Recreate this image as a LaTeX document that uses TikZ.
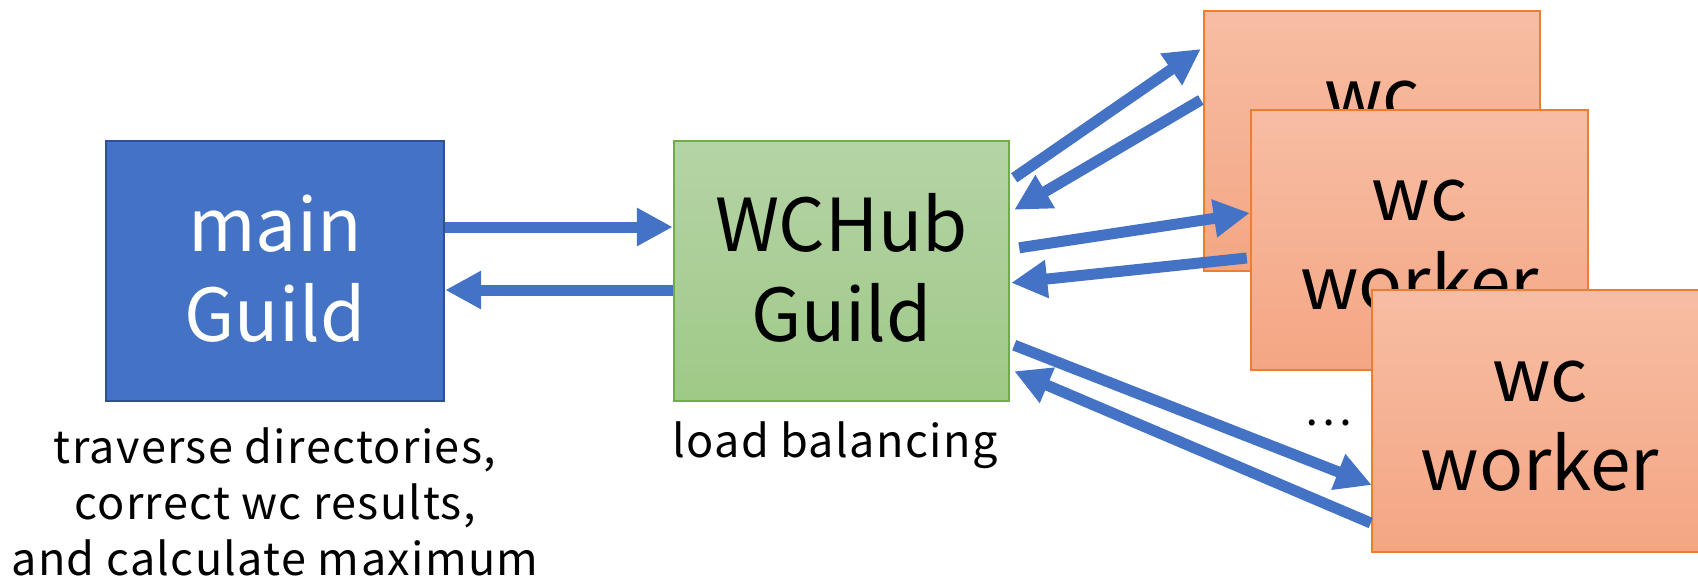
\documentclass[tikz,border=0pt]{standalone}
\usepackage{fontspec}
\usetikzlibrary{arrows.meta,calc}
\newfontfamily\jpfont{Noto Sans CJK JP}
\newfontfamily\jpspaced{Noto Sans CJK JP}[LetterSpace=3]
\definecolor{mainblue}{HTML}{4472C4}
\definecolor{mainedge}{HTML}{2F528F}
\definecolor{hubtop}{HTML}{B5D4A6}
\definecolor{hubbot}{HTML}{9FC987}
\definecolor{hubedge}{HTML}{70AD47}
\definecolor{wtop}{HTML}{F7BDA4}
\definecolor{wbot}{HTML}{F4A683}
\definecolor{wedge}{HTML}{ED7D31}
\tikzset{
  box/.style={rectangle, inner sep=0pt, line width=1.2pt},
  mainbox/.style={box, fill=mainblue, draw=mainedge},
  hubbox/.style={box, top color=hubtop, bottom color=hubbot, draw=hubedge},
  workerbox/.style={box, top color=wtop, bottom color=wbot, draw=wedge},
  bigtext/.style={anchor=base, inner sep=0pt, font=\jpfont\fontsize{36.5}{44}\selectfont},
  smalltext/.style={anchor=base, inner sep=0pt, font=\jpspaced\fontsize{22.5}{28}\selectfont},
  flow/.style={draw=mainblue, line width=5.5pt,
    -{Triangle[width=18pt,length=18pt]}},
}
\begin{document}
\begin{tikzpicture}[x=0.5pt, y=-0.5pt]
\clip (0,0) rectangle (1698,579);
\fill[white] (0,0) rectangle (1698,579);

% main guild
\node[mainbox, minimum width=169pt, minimum height=130pt] (main) at (275,271) {};
\node[bigtext, text=white] (mainA) at ($(main.center)+(0,-20)$) {main};
\node[bigtext, text=white] (mainB) at ($(main.center)+(0,70)$) {Guild};

% hub guild
\node[hubbox, minimum width=167.5pt, minimum height=130pt] (hub) at (841.5,271) {};
\node[bigtext] (hubA) at ($(hub.center)+(0,-20)$) {WCHub};
\node[bigtext] (hubB) at ($(hub.center)+(0,70)$) {Guild};

% stacked workers
\node[workerbox, minimum width=168pt, minimum height=130pt] (w1) at (1372,141) {};
\node[bigtext] (w1A) at ($(w1.center)+(0,-20)$) {wc};
\node[bigtext] (w1B) at ($(w1.center)+(0,69)$) {worker};

\node[workerbox, minimum width=168.5pt, minimum height=130pt] (w2) at (1419.5,240) {};
\node[bigtext] (w2A) at ($(w2.center)+(0,-20)$) {wc};
\node[bigtext] (w2B) at ($(w2.center)+(0,69)$) {worker};

\node[workerbox, minimum width=168pt, minimum height=131pt] (w3) at (1540,421) {};
\node[bigtext] (w3A) at ($(w3.center)+(0,-20)$) {wc};
\node[bigtext] (w3B) at ($(w3.center)+(0,69)$) {worker};

% captions
\node[smalltext] (capA) at (275,463) {traverse directories,};
\node[smalltext] (capB) at (275,519) {correct wc results,};
\node[smalltext] (capC) at (275,575) {and calculate maximum};
\node[smalltext] (capHub) at (835,457) {load balancing};
\node[inner sep=0pt, font=\jpfont\fontsize{22.5}{28}\selectfont] (dots) at (1328,423) {…};

% main <-> hub
\draw[flow] ($(main.east)+(0,-44)$) -- ($(hub.west)+(0,-44)$);
\draw[flow] ($(hub.west)+(0,19)$) -- ($(main.east)+(0,19)$);

% hub <-> workers
\draw[flow] ($(hub.north east)+(4,38)$) -- ($(w1.west)+(-2,-92)$);
\draw[flow] ($(w1.west)+(-2,-41)$) -- ($(hub.north east)+(4,70)$);
\draw[flow] ($(hub.north east)+(9,108)$) -- ($(w2.west)+(0,-27)$);
\draw[flow] ($(w2.west)+(-3,18)$) -- ($(hub.north east)+(1,143)$);
\draw[flow] ($(hub.south east)+(4,-57)$) -- ($(w3.west)+(1,64)$);
\draw[flow] ($(w3.west)+(0,102)$) -- ($(hub.south east)+(4,-31)$);
\end{tikzpicture}
\end{document}
